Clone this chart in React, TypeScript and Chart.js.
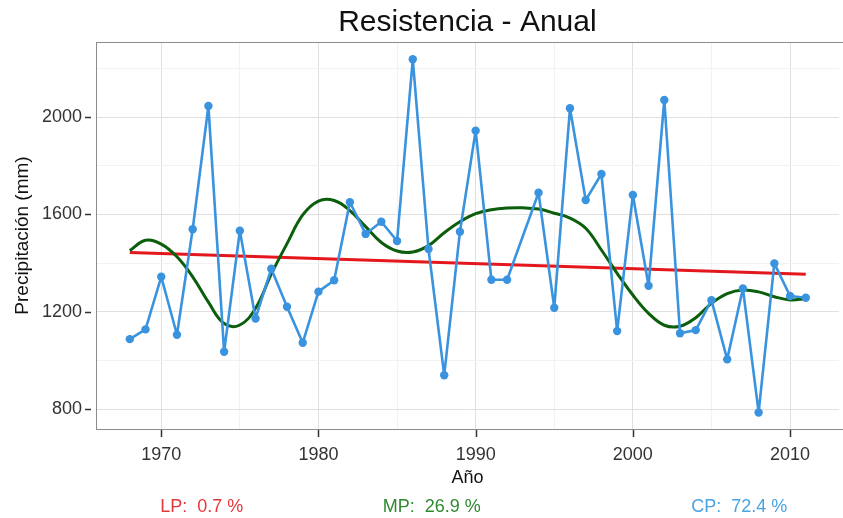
import React, { useEffect, useRef } from 'react';
import { Chart, registerables } from 'chart.js';

Chart.register(...registerables);

// ---- Data ----
const years = [
  1968, 1969, 1970, 1971, 1972, 1973, 1974, 1975, 1976, 1977, 1978, 1979,
  1980, 1981, 1982, 1983, 1984, 1985, 1986, 1987, 1988, 1989, 1990, 1991,
  1992, 1993, 1994, 1995, 1996, 1997, 1998, 1999, 2000, 2001, 2002, 2003,
  2004, 2005, 2006, 2007, 2008, 2009, 2010, 2011,
];

// CP: annual precipitation (mm); 1993 missing
const precipitation: (number | null)[] = [
  1088, 1128, 1344, 1106, 1539, 2045, 1036, 1533, 1173, 1377, 1221, 1073,
  1283, 1330, 1650, 1520, 1570, 1491, 2237, 1458, 940, 1529, 1944, 1332,
  1332, null, 1689, 1217, 2036, 1659, 1766, 1121, 1680, 1307, 2070, 1112,
  1125, 1248, 1005, 1296, 787, 1399, 1265, 1258,
];

// MP: smoothed component
const smoothMP = [
  1452, 1494, 1478, 1426, 1344, 1240, 1152, 1146, 1215, 1355, 1480, 1598,
  1655, 1657, 1616, 1550, 1485, 1450, 1446, 1472, 1525, 1570, 1603, 1619,
  1626, 1627, 1622, 1605, 1585, 1543, 1454, 1358, 1269, 1194, 1145, 1141,
  1176, 1235, 1275, 1290, 1282, 1262, 1249, 1254,
];

// LP: linear trend
const trendYears = [1968, 2011];
const trendLP = [1444, 1354];

const xGridValues = [1970, 1975, 1980, 1985, 1990, 1995, 2000, 2005, 2010];
const xTickLabels = [1970, 1980, 1990, 2000, 2010];
const yGridValues = [800, 1000, 1200, 1400, 1600, 1800, 2000, 2200];
const yTickLabels = [800, 1200, 1600, 2000];

const footerTexts = ['LP:  0.7 %', 'MP:  26.9 %', 'CP:  72.4 %'];

const FONT = '"Liberation Sans", Arial, Helvetica, sans-serif';
const BLUE = '#3a93df';
const GREEN = '#0b5e0b';
const RED = '#e3171c';
const FOOTER_COLORS = ['#e3383c', '#2f8a2f', '#4aa3e3'];
const FOOTER_X = [201.7, 431.7, 739.2];

const panelPlugin = {
  id: 'panelDecor',
  afterDraw(chart: any) {
    const { ctx, chartArea, scales } = chart;
    ctx.save();
    // panel border
    ctx.strokeStyle = '#8c8c8c';
    ctx.lineWidth = 1;
    ctx.strokeRect(
      Math.round(chartArea.left) + 0.5,
      Math.round(chartArea.top) + 0.5,
      chartArea.right - chartArea.left + 5,
      chartArea.bottom - chartArea.top
    );
    // x axis tick marks
    ctx.strokeStyle = '#333333';
    ctx.lineWidth = 1.5;
    const bottom = Math.round(chartArea.bottom);
    xTickLabels.forEach((v) => {
      const px = Math.round(scales.x.getPixelForValue(v)) + 0.5;
      ctx.beginPath();
      ctx.moveTo(px, bottom + 1);
      ctx.lineTo(px, bottom + 8);
      ctx.stroke();
    });
    // y axis tick marks
    const left = Math.round(chartArea.left);
    yTickLabels.forEach((v) => {
      const py = Math.round(scales.y.getPixelForValue(v)) + 0.5;
      ctx.beginPath();
      ctx.moveTo(left - 11, py);
      ctx.lineTo(left - 5, py);
      ctx.stroke();
    });
    // component shares
    ctx.font = `18px ${FONT}`;
    ctx.textAlign = 'center';
    ctx.textBaseline = 'middle';
    footerTexts.forEach((t, i) => {
      ctx.fillStyle = FOOTER_COLORS[i];
      ctx.fillText(t, FOOTER_X[i], 507);
    });
    ctx.restore();
  },
};

const isMajor = (list: number[]) => (c: any) =>
  c && c.tick && list.includes(Number(c.tick.value));

export default function App() {
  const canvasRef = useRef<HTMLCanvasElement | null>(null);

  useEffect(() => {
    if (!canvasRef.current) return;
    Chart.defaults.font.family = FONT;
    const cpData = years.map((y, i) => ({ x: y, y: precipitation[i] }));
    const mpData = years.map((y, i) => ({ x: y, y: smoothMP[i] }));
    const lpData = trendYears.map((y, i) => ({ x: y, y: trendLP[i] }));
    const xMajor = isMajor(xTickLabels);
    const yMajor = isMajor(yTickLabels);

    const chart = new Chart(canvasRef.current, {
      type: 'line',
      data: {
        datasets: [
          {
            label: 'CP',
            data: cpData as any,
            borderColor: BLUE,
            backgroundColor: BLUE,
            borderWidth: 2.6,
            borderJoinStyle: 'round',
            borderCapStyle: 'round',
            pointRadius: 4.2,
            pointBorderWidth: 0,
            pointBackgroundColor: BLUE,
            spanGaps: true,
            tension: 0,
          },
          {
            label: 'MP',
            data: mpData,
            borderColor: GREEN,
            borderWidth: 3,
            borderJoinStyle: 'round',
            pointRadius: 0,
            tension: 0.4,
          },
          {
            label: 'LP',
            data: lpData,
            borderColor: RED,
            borderWidth: 3,
            pointRadius: 0,
            tension: 0,
          },
        ],
      },
      options: {
        animation: false,
        responsive: true,
        maintainAspectRatio: false,
        layout: { padding: 0 },
        plugins: {
          legend: { display: false },
          tooltip: { enabled: false },
          title: {
            display: true,
            text: 'Resistencia - Anual',
            fullSize: false,
            color: '#111111',
            font: { size: 30, weight: 'normal', lineHeight: 1.2, family: FONT },
            padding: { top: 5, bottom: 1 },
          },
        },
        scales: {
          x: {
            type: 'linear',
            min: 1965.85,
            max: 2013.1,
            afterBuildTicks: (s: any) => {
              s.ticks = xGridValues.map((v) => ({ value: v }));
            },
            afterFit: (s: any) => {
              s.height = 89;
            },
            ticks: {
              autoSkip: false,
              maxRotation: 0,
              padding: 8,
              color: '#333333',
              font: { size: 18, family: FONT },
              callback: (v: any) => (xTickLabels.includes(Number(v)) ? String(v) : ''),
            },
            grid: {
              color: (c: any) => (xMajor(c) ? '#e0e0e0' : '#f2f2f2'),
              drawTicks: true,
              tickLength: 7,
              tickColor: 'rgba(255,255,255,0)',
              lineWidth: 1,
            },
            border: { display: false },
            title: {
              display: true,
              text: 'Año',
              color: '#111111',
              font: { size: 18, family: FONT },
              padding: { top: 0, bottom: 29 },
            },
          },
          y: {
            type: 'linear',
            min: 719,
            max: 2308,
            afterBuildTicks: (s: any) => {
              s.ticks = yGridValues.map((v) => ({ value: v }));
            },
            afterFit: (s: any) => {
              s.width = 96;
            },
            ticks: {
              autoSkip: false,
              padding: 8,
              color: '#333333',
              font: { size: 18, family: FONT },
              callback: (v: any) => (yTickLabels.includes(Number(v)) ? String(v) : ''),
            },
            grid: {
              color: (c: any) => (yMajor(c) ? '#e0e0e0' : '#f2f2f2'),
              drawTicks: true,
              tickLength: 6,
              tickColor: 'rgba(255,255,255,0)',
              lineWidth: 1,
            },
            border: { display: false },
            title: {
              display: true,
              text: 'Precipitación (mm)',
              color: '#111111',
              font: { size: 19, family: FONT },
              padding: { top: 11, bottom: 0 },
            },
          },
        },
      },
      plugins: [panelPlugin],
    });
    return () => chart.destroy();
  }, []);

  return (
    <div
      style={{
        position: 'fixed',
        left: 0,
        top: 0,
        width: 843,
        height: 518,
        background: '#ffffff',
      }}
    >
      <canvas ref={canvasRef} />
    </div>
  );
}
